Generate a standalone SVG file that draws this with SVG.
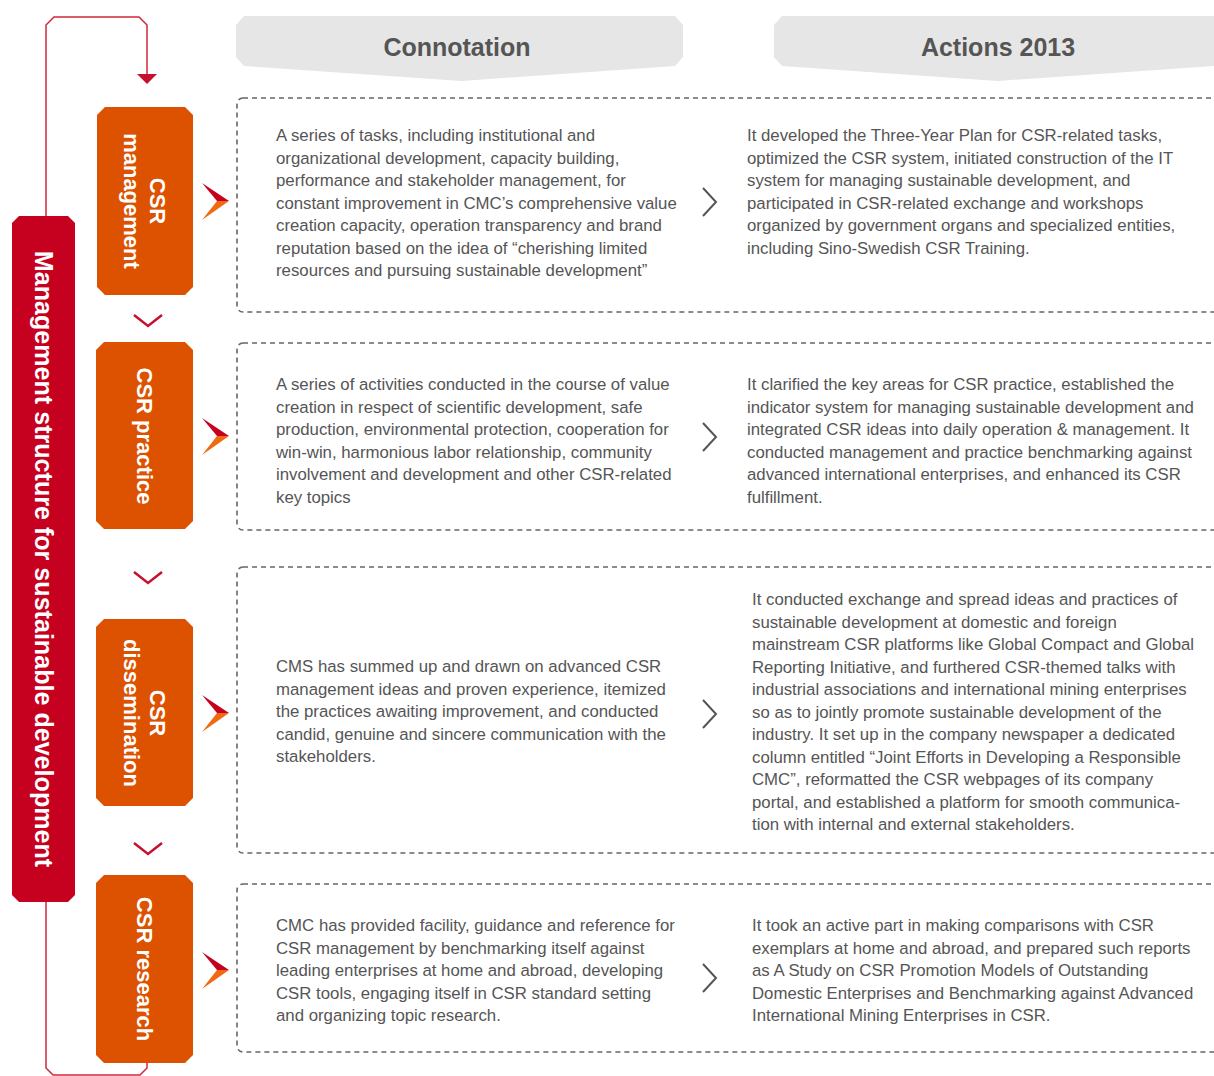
<svg xmlns="http://www.w3.org/2000/svg" width="1214" height="1076" viewBox="0 0 1214 1076">
<defs>
<style>
.hdr{fill:#e6e6e6}
.hdrt{font-family:"Liberation Sans",Arial,sans-serif;font-weight:bold;font-size:25px;fill:#555;text-anchor:middle}
.box{fill:#dc5200}
.bar{fill:#c6001f}
.bt{font-family:"Liberation Sans",Arial,sans-serif;font-weight:bold;font-size:22px;fill:#fff;text-anchor:middle}
.bart{font-family:"Liberation Sans",Arial,sans-serif;font-weight:bold;font-size:25.1px;fill:#fff;text-anchor:middle}
.dash{fill:none;stroke:#666;stroke-width:1.6;stroke-dasharray:5 4}
.tx{font-family:"Liberation Sans",Arial,sans-serif;font-size:16.8px;fill:#555}
.loop{fill:none;stroke:#d0283a;stroke-width:1.5}
.dn{fill:none;stroke:#c8102e;stroke-width:2.5}
.gt{fill:none;stroke:#555;stroke-width:2}
</style>
<g id="pointer">
<polygon points="-27,-18 0,0 -12,0" fill="#c6001f"/>
<polygon points="-12,0 0,0 -27,19" fill="#f06a12"/>
</g>
</defs>

<g id="headers">
<g id="hdr-connotation">
<polygon class="hdr" points="244,16 675,16 683,25 683,57 675,66 462,81 244,66 236,57 236,25"/>
<text class="hdrt" x="457" y="56">Connotation</text>
</g>
<g id="hdr-actions">
<polygon class="hdr" points="782,16 1214,16 1222,25 1222,57 1214,66 998,81 782,66 774,57 774,25"/>
<text class="hdrt" x="998" y="56">Actions 2013</text>
</g>
</g>

<g id="mgmt-structure">
<polygon class="bar" points="19,216 68,216 75,223 75,895 68,902 19,902 12,895 12,223"/>
<text class="bart" transform="translate(43.5,559) rotate(90)" x="0" y="9">Management structure for sustainable development</text>
</g>

<g id="connectors">
<path class="loop" d="M46,216 V25 L54,17 H139 L147,25 V75"/>
<polygon points="137,74 157,74 147,84" fill="#c8102e"/>
<path class="loop" d="M46,902 V1068 L53,1075 H140 L147,1068 V1063"/>
<polyline class="dn" points="134,315 148,326 162,315"/>
<polyline class="dn" points="134,572 148,583 162,572"/>
<polyline class="dn" points="134,843 148,854 162,843"/>
<use href="#pointer" transform="translate(229,201)"/>
<use href="#pointer" transform="translate(229,436)"/>
<use href="#pointer" transform="translate(229,713)"/>
<use href="#pointer" transform="translate(229,970)"/>
<polyline class="gt" points="703,188 716,202 703,216"/>
<polyline class="gt" points="703,423 716,437 703,451"/>
<polyline class="gt" points="703,700 716,714 703,728"/>
<polyline class="gt" points="703,964 716,978 703,992"/>
</g>

<g id="csr-management">
<polygon class="box" points="105,107 185,107 193,115 193,287 185,295 105,295 97,287 97,115"/>
<text class="bt" transform="translate(145,201) rotate(90)"><tspan x="0" y="-5">CSR</tspan><tspan x="0" y="21">management</tspan></text>
<rect class="dash" x="237" y="98" width="1000" height="214" rx="6"/>
<text class="tx">
<tspan x="276" y="141">A series of tasks, including institutional and</tspan>
<tspan x="276" y="163.5">organizational development, capacity building,</tspan>
<tspan x="276" y="186">performance and stakeholder management, for</tspan>
<tspan x="276" y="208.5">constant improvement in CMC’s comprehensive value</tspan>
<tspan x="276" y="231">creation capacity, operation transparency and brand</tspan>
<tspan x="276" y="253.5">reputation based on the idea of “cherishing limited</tspan>
<tspan x="276" y="276">resources and pursuing sustainable development”</tspan>
</text>
<text class="tx">
<tspan x="747" y="141">It developed the Three-Year Plan for CSR-related tasks,</tspan>
<tspan x="747" y="163.5">optimized the CSR system, initiated construction of the IT</tspan>
<tspan x="747" y="186">system for managing sustainable development, and</tspan>
<tspan x="747" y="208.5">participated in CSR-related exchange and workshops</tspan>
<tspan x="747" y="231">organized by government organs and specialized entities,</tspan>
<tspan x="747" y="253.5">including Sino-Swedish CSR Training.</tspan>
</text>
</g>

<g id="csr-practice">
<polygon class="box" points="104,342 185,342 193,350 193,521 185,529 104,529 96,521 96,350"/>
<text class="bt" transform="translate(145,436) rotate(90)" x="0" y="8">CSR practice</text>
<rect class="dash" x="237" y="343" width="1000" height="187" rx="6"/>
<text class="tx">
<tspan x="276" y="390">A series of activities conducted in the course of value</tspan>
<tspan x="276" y="412.5">creation in respect of scientific development, safe</tspan>
<tspan x="276" y="435">production, environmental protection, cooperation for</tspan>
<tspan x="276" y="457.5">win-win, harmonious labor relationship, community</tspan>
<tspan x="276" y="480">involvement and development and other CSR-related</tspan>
<tspan x="276" y="502.5">key topics</tspan>
</text>
<text class="tx">
<tspan x="747" y="390">It clarified the key areas for CSR practice, established the</tspan>
<tspan x="747" y="412.5">indicator system for managing sustainable development and</tspan>
<tspan x="747" y="435">integrated CSR ideas into daily operation &amp; management. It</tspan>
<tspan x="747" y="457.5">conducted management and practice benchmarking against</tspan>
<tspan x="747" y="480">advanced international enterprises, and enhanced its CSR</tspan>
<tspan x="747" y="502.5">fulfillment.</tspan>
</text>
</g>

<g id="csr-dissemination">
<polygon class="box" points="104,619 185,619 193,627 193,798 185,806 104,806 96,798 96,627"/>
<text class="bt" transform="translate(145,713) rotate(90)"><tspan x="0" y="-5">CSR</tspan><tspan x="0" y="21">dissemination</tspan></text>
<rect class="dash" x="237" y="567" width="1000" height="286" rx="6"/>
<text class="tx">
<tspan x="276" y="672">CMS has summed up and drawn on advanced CSR</tspan>
<tspan x="276" y="694.5">management ideas and proven experience, itemized</tspan>
<tspan x="276" y="717">the practices awaiting improvement, and conducted</tspan>
<tspan x="276" y="739.5">candid, genuine and sincere communication with the</tspan>
<tspan x="276" y="762">stakeholders.</tspan>
</text>
<text class="tx">
<tspan x="752" y="605">It conducted exchange and spread ideas and practices of</tspan>
<tspan x="752" y="627.5">sustainable development at domestic and foreign</tspan>
<tspan x="752" y="650">mainstream CSR platforms like Global Compact and Global</tspan>
<tspan x="752" y="672.5">Reporting Initiative, and furthered CSR-themed talks with</tspan>
<tspan x="752" y="695">industrial associations and international mining enterprises</tspan>
<tspan x="752" y="717.5">so as to jointly promote sustainable development of the</tspan>
<tspan x="752" y="740">industry. It set up in the company newspaper a dedicated</tspan>
<tspan x="752" y="762.5">column entitled “Joint Efforts in Developing a Responsible</tspan>
<tspan x="752" y="785">CMC”, reformatted the CSR webpages of its company</tspan>
<tspan x="752" y="807.5">portal, and established a platform for smooth communica-</tspan>
<tspan x="752" y="830">tion with internal and external stakeholders.</tspan>
</text>
</g>

<g id="csr-research">
<polygon class="box" points="104,875 185,875 193,883 193,1055 185,1063 104,1063 96,1055 96,883"/>
<text class="bt" transform="translate(145,969) rotate(90)" x="0" y="8">CSR research</text>
<rect class="dash" x="237" y="884" width="1000" height="168" rx="6"/>
<text class="tx">
<tspan x="276" y="931">CMC has provided facility, guidance and reference for</tspan>
<tspan x="276" y="953.5">CSR management by benchmarking itself against</tspan>
<tspan x="276" y="976">leading enterprises at home and abroad, developing</tspan>
<tspan x="276" y="998.5">CSR tools, engaging itself in CSR standard setting</tspan>
<tspan x="276" y="1021">and organizing topic research.</tspan>
</text>
<text class="tx">
<tspan x="752" y="931">It took an active part in making comparisons with CSR</tspan>
<tspan x="752" y="953.5">exemplars at home and abroad, and prepared such reports</tspan>
<tspan x="752" y="976">as A Study on CSR Promotion Models of Outstanding</tspan>
<tspan x="752" y="998.5">Domestic Enterprises and Benchmarking against Advanced</tspan>
<tspan x="752" y="1021">International Mining Enterprises in CSR.</tspan>
</text>
</g>
</svg>
